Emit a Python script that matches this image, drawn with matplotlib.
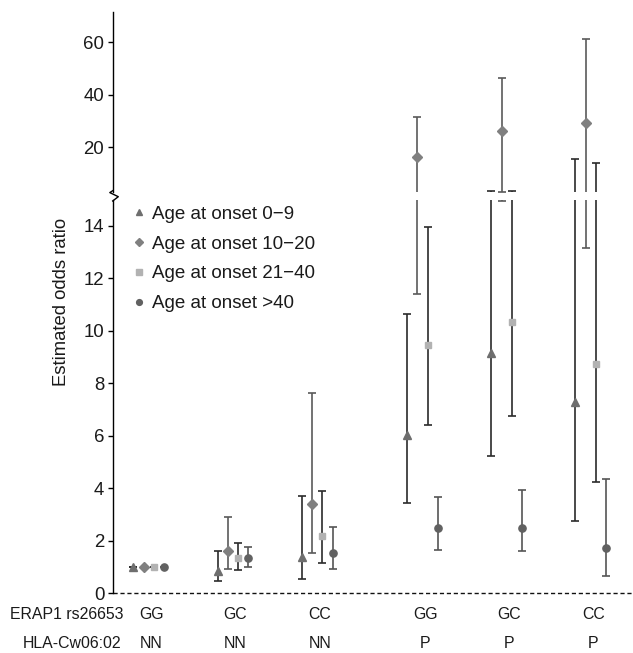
import numpy as np
import matplotlib
matplotlib.use("Agg")
import matplotlib.pyplot as plt
from matplotlib.lines import Line2D
from matplotlib import transforms

plt.rcParams['font.family'] = ['Liberation Sans', 'DejaVu Sans']

# groups: ERAP1 rs26653 genotype x HLA-Cw06:02 status
erap1 = ["GG", "GC", "CC", "GG", "GC", "CC"]
hla = ["NN", "NN", "NN", "P", "P", "P"]
group_pos = [1, 2, 3, 4.25, 5.25, 6.25]

labels = ["Age at onset 0\u22129", "Age at onset 10\u221220",
          "Age at onset 21\u221240", "Age at onset >40"]

# estimated odds ratios and 95% CI, one list per age group
or_0_9 = [1.0, 0.86, 1.37, 6.02, 9.15, 7.30]
lo_0_9 = [1.0, 0.48, 0.53, 3.45, 5.25, 2.77]
hi_0_9 = [1.0, 1.61, 3.72, 10.63, 15.1, 18.7]

or_10_20 = [1.0, 1.62, 3.40, 18.9, 26.2, 29.2]
lo_10_20 = [1.0, 0.94, 1.52, 11.41, 14.95, 13.15]
hi_10_20 = [1.0, 2.92, 7.62, 31.5, 46.4, 61.2]

or_21_40 = [1.0, 1.35, 2.18, 9.47, 10.35, 8.73]
lo_21_40 = [1.0, 0.89, 1.17, 6.41, 6.77, 4.25]
hi_21_40 = [1.0, 1.93, 3.91, 13.97, 15.1, 18.2]

or_40 = [1.0, 1.35, 1.55, 2.50, 2.50, 1.74]
lo_40 = [1.0, 1.00, 0.94, 1.65, 1.61, 0.67]
hi_40 = [1.0, 1.76, 2.52, 3.68, 3.93, 4.36]

series = [
    (or_0_9, lo_0_9, hi_0_9, '^', '#6e6e6e', '#2b2b2b', 6.0),
    (or_10_20, lo_10_20, hi_10_20, 'D', '#808080', '#5a5a5a', 5.0),
    (or_21_40, lo_21_40, hi_21_40, 's', '#b2b2b2', '#2b2b2b', 4.8),
    (or_40, lo_40, hi_40, 'o', '#616161', '#555555', 5.2),
]
offsets = [-0.183, -0.061, 0.061, 0.183]

W, H = 633, 653
fig = plt.figure(figsize=(W / 100, H / 100), dpi=100)

def px_box(x0, y_top, x1, y_bot):
    return [x0 / W, 1 - y_bot / H, (x1 - x0) / W, (y_bot - y_top) / H]

ax_lo = fig.add_axes(px_box(112.7, 199.7, 633, 593.3))
ax_hi = fig.add_axes(px_box(112.7, 12, 633, 192))

# upper segment: 15-20 stretched, linear above 20
def fwd(v):
    v = np.asarray(v, dtype=float)
    return np.where(v <= 20, (v - 15) * 9.0, 45 + (v - 20) * 2.6175)

def inv(u):
    u = np.asarray(u, dtype=float)
    return np.where(u <= 45, 15 + u / 9.0, 20 + (u - 45) / 2.6175)

ax_hi.set_yscale('function', functions=(fwd, inv))

for ax in (ax_lo, ax_hi):
    for (m, lo, hi, mk, mc, bc, ms), off, lab in zip(series, offsets, labels):
        x = np.array(group_pos) + off
        m = np.array(m)
        yerr = [m - np.array(lo), np.array(hi) - m]
        ax.errorbar(x, m, yerr=yerr, fmt=mk, ms=ms, mfc=mc, mec=mc,
                    ecolor=bc, elinewidth=1.2, capsize=2.6, capthick=1.2,
                    label=lab)
    ax.set_xlim(0.571, 6.75)
    ax.set_xticks([])
    for s in ('top', 'right', 'bottom'):
        ax.spines[s].set_visible(False)
    ax.spines['left'].set_linewidth(1.0)
    ax.tick_params(axis='y', direction='out', length=3.5, width=1.0,
                   pad=2.5, labelsize=13.4, labelcolor='#1a1a1a')

ax_lo.set_ylim(0, 15.0)
ax_lo.set_yticks([0, 2, 4, 6, 8, 10, 12, 14])
ax_hi.set_ylim(15, 71.6)
ax_hi.set_yticks([20, 40, 60])

ax_lo.axhline(0, color='#111111', lw=1.0, ls=(0, (3, 2)), clip_on=False)

# axis break mark
zx = [112.7, 109.8, 118.3, 112.7]
zy = [190.7, 192.6, 196.7, 201.0]
fig.add_artist(Line2D([v / W for v in zx], [1 - v / H for v in zy],
                      color='black', lw=1.0))

fig.text(61.7 / W, 1 - 302 / H, "Estimated odds ratio", rotation=90,
         ha='center', va='center', fontsize=13.3, color='#1a1a1a')

# category rows
tr = transforms.blended_transform_factory(ax_lo.transData, fig.transFigure)
for gx, g, h in zip(group_pos, erap1, hla):
    ax_lo.text(gx + 0.03, 1 - 614.7 / H, g, transform=tr, ha='center',
               va='center', fontsize=11.4, color='#1a1a1a')
    ax_lo.text(gx + 0.03, 1 - 644 / H, h, transform=tr, ha='center',
               va='center', fontsize=11.4, color='#1a1a1a')
fig.text(123 / W, 1 - 614.7 / H, "ERAP1 rs26653", ha='right', va='center',
         fontsize=11.4, color='#1a1a1a')
fig.text(121 / W, 1 - 644 / H, "HLA-Cw06:02", ha='right', va='center',
         fontsize=11.4, color='#1a1a1a')

handles = [Line2D([], [], ls='none', marker=mk, ms=ms * 0.8, mfc=mc, mec=mc)
           for (_, _, _, mk, mc, _, ms) in series]
fig.legend(handles, labels, loc='upper left',
           bbox_to_anchor=(128.1 / W, 1 - 200 / H), frameon=False,
           fontsize=13.5, handlelength=0.6, handletextpad=0.35,
           labelspacing=0.68, borderaxespad=0, borderpad=0.3,
           labelcolor='#1a1a1a')

fig.savefig("out.png", dpi=100)
